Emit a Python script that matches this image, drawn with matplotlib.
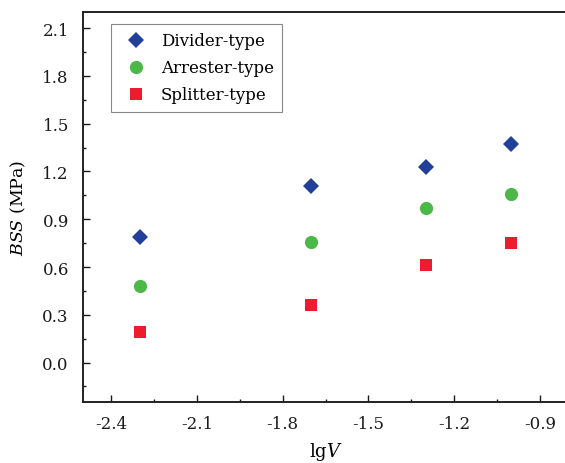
import numpy as np
import matplotlib
matplotlib.use("Agg")
import matplotlib.pyplot as plt
from matplotlib.ticker import MultipleLocator

## data
lgv = [-2.3, -1.7, -1.3, -1.0]
divider = [0.79, 1.11, 1.23, 1.37]
arrester = [0.48, 0.76, 0.97, 1.06]
splitter = [0.19, 0.36, 0.61, 0.75]

plt.rcParams['font.family'] = 'DejaVu Serif'
plt.rcParams['mathtext.fontset'] = 'dejavuserif'

fig = plt.figure(figsize=(5.65, 4.64), dpi=100)
ax = fig.add_axes([0.1464, 0.1308, 0.8596, 0.8405])

ax.plot(lgv, divider, 'D', color='#22409a', ms=8, mew=0, label='Divider-type')
ax.plot(lgv, arrester, 'o', color='#4cb848', ms=9.5, mew=0, label='Arrester-type')
ax.plot(lgv, splitter, 's', color='#ec1c2e', ms=8.3, mew=0, label='Splitter-type')

ax.set_xlim(-2.5, -0.8)
ax.set_ylim(-0.25, 2.2)
ax.xaxis.set_minor_locator(MultipleLocator(0.15))
ax.yaxis.set_minor_locator(MultipleLocator(0.15))
ax.set_xticks(np.arange(-2.4, -0.85, 0.3))
ax.set_xticklabels(['-2.4', '-2.1', '-1.8', '-1.5', '-1.2', '-0.9'])
ax.set_yticks(np.arange(0.0, 2.11, 0.3))
ax.set_yticklabels(['%.1f' % v for v in np.arange(0.0, 2.11, 0.3)])

ax.tick_params(which='both', direction='in', width=1.0, labelsize=12, colors='#1a1a1a')
ax.tick_params(which='major', length=5)
ax.tick_params(which='minor', length=2.5)
ax.tick_params(axis='y', pad=10)
ax.tick_params(axis='x', pad=9)
for s in ax.spines.values():
    s.set_linewidth(1.4)
    s.set_color('#222222')
ax.spines['right'].set_visible(False)

ax.set_xlabel('lg$V$', fontsize=13, labelpad=6)
ax.set_ylabel('$BSS$ (MPa)', fontsize=12.5, labelpad=10)

leg = ax.legend(loc='upper left', bbox_to_anchor=(0.058, 0.970), borderaxespad=0,
                fontsize=12, fancybox=False, framealpha=1, edgecolor='#888888',
                handletextpad=0.5, labelspacing=0.6, borderpad=0.5)
leg.get_frame().set_linewidth(0.8)

fig.savefig('out.png', dpi=100)
